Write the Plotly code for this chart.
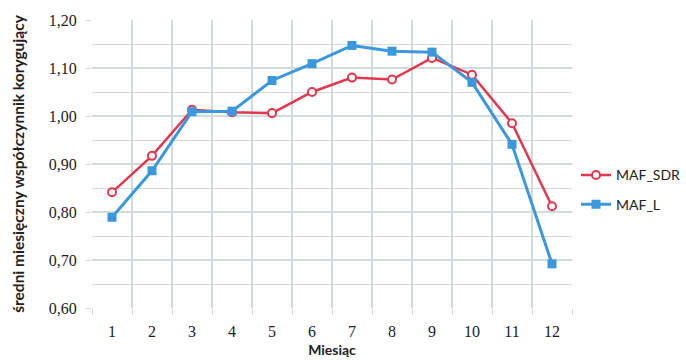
import plotly.graph_objects as go

months = list(range(1, 13))
month_labels = [str(m) for m in months]
maf_sdr = [0.841, 0.917, 1.013, 1.008, 1.006, 1.050, 1.080, 1.076, 1.121, 1.086, 0.985, 0.812]
maf_l = [0.789, 0.886, 1.009, 1.010, 1.074, 1.109, 1.147, 1.135, 1.133, 1.070, 0.941, 0.692]
y_ticks = [0.6, 0.7, 0.8, 0.9, 1.0, 1.1, 1.2]

red = "#e0394f"
blue = "#3b98dc"

fig = go.Figure()
fig.add_trace(go.Scatter(
    x=months, y=maf_sdr, name="MAF_SDR", mode="lines+markers", legendgroup="a",
    line=dict(color=red, width=2.5),
    marker=dict(symbol="circle", size=8, color="white", line=dict(color=red, width=2)),
))
fig.add_trace(go.Scatter(
    x=months, y=maf_l, name="MAF_L", mode="lines+markers", legendgroup="b",
    line=dict(color=blue, width=3),
    marker=dict(symbol="square", size=9, color=blue),
))

grid = "#d3dadb"
W = 686 - 92
fig.update_layout(
    width=686, height=360,
    margin=dict(l=92, r=0, t=20, b=52),
    paper_bgcolor="white", plot_bgcolor="white",
    separators=", ",
    showlegend=True,
    legend=dict(x=1.0, y=0.41, xanchor="right", yanchor="middle",
                traceorder="grouped", tracegroupgap=8,
                font=dict(family="Lato, Liberation Sans, sans-serif", size=14, color="#222"),
                itemwidth=30, bgcolor="rgba(0,0,0,0)"),
    xaxis=dict(
        domain=[0, 480 / W],
        range=[0.5, 12.5], tickvals=months, ticktext=month_labels,
        showgrid=False, zeroline=False, showline=False, ticks="",
        ticklabelstandoff=12,
        tickfont=dict(family="Liberation Serif, serif", size=16, color="#222"),
        minor=dict(tickvals=[m + 0.5 for m in [0] + months], showgrid=True,
                   gridcolor=grid, gridwidth=1.5, ticks="outside", ticklen=6,
                   tickcolor=grid),
        title=dict(text="<b>Miesiąc</b>", font=dict(family="Lato, Liberation Sans, sans-serif", size=14, color="#222"), standoff=6),
    ),
    yaxis=dict(
        range=[0.6, 1.2], tickvals=y_ticks, tickformat=".2f",
        showgrid=True, gridcolor=grid, gridwidth=1.5, zeroline=False,
        showline=False, ticks="outside", ticklen=5, tickcolor=grid,
        ticklabelstandoff=6,
        tickfont=dict(family="Liberation Serif, serif", size=16, color="#222"),
        minor=dict(dtick=0.05, showgrid=True, gridcolor=grid, gridwidth=1),
        title=dict(text="<b>średni miesięczny współczynnik korygujący</b>",
                   font=dict(family="Lato, Liberation Sans, sans-serif", size=15.5, color="#222"), standoff=20),
    ),
)

fig.write_html("out.html")
